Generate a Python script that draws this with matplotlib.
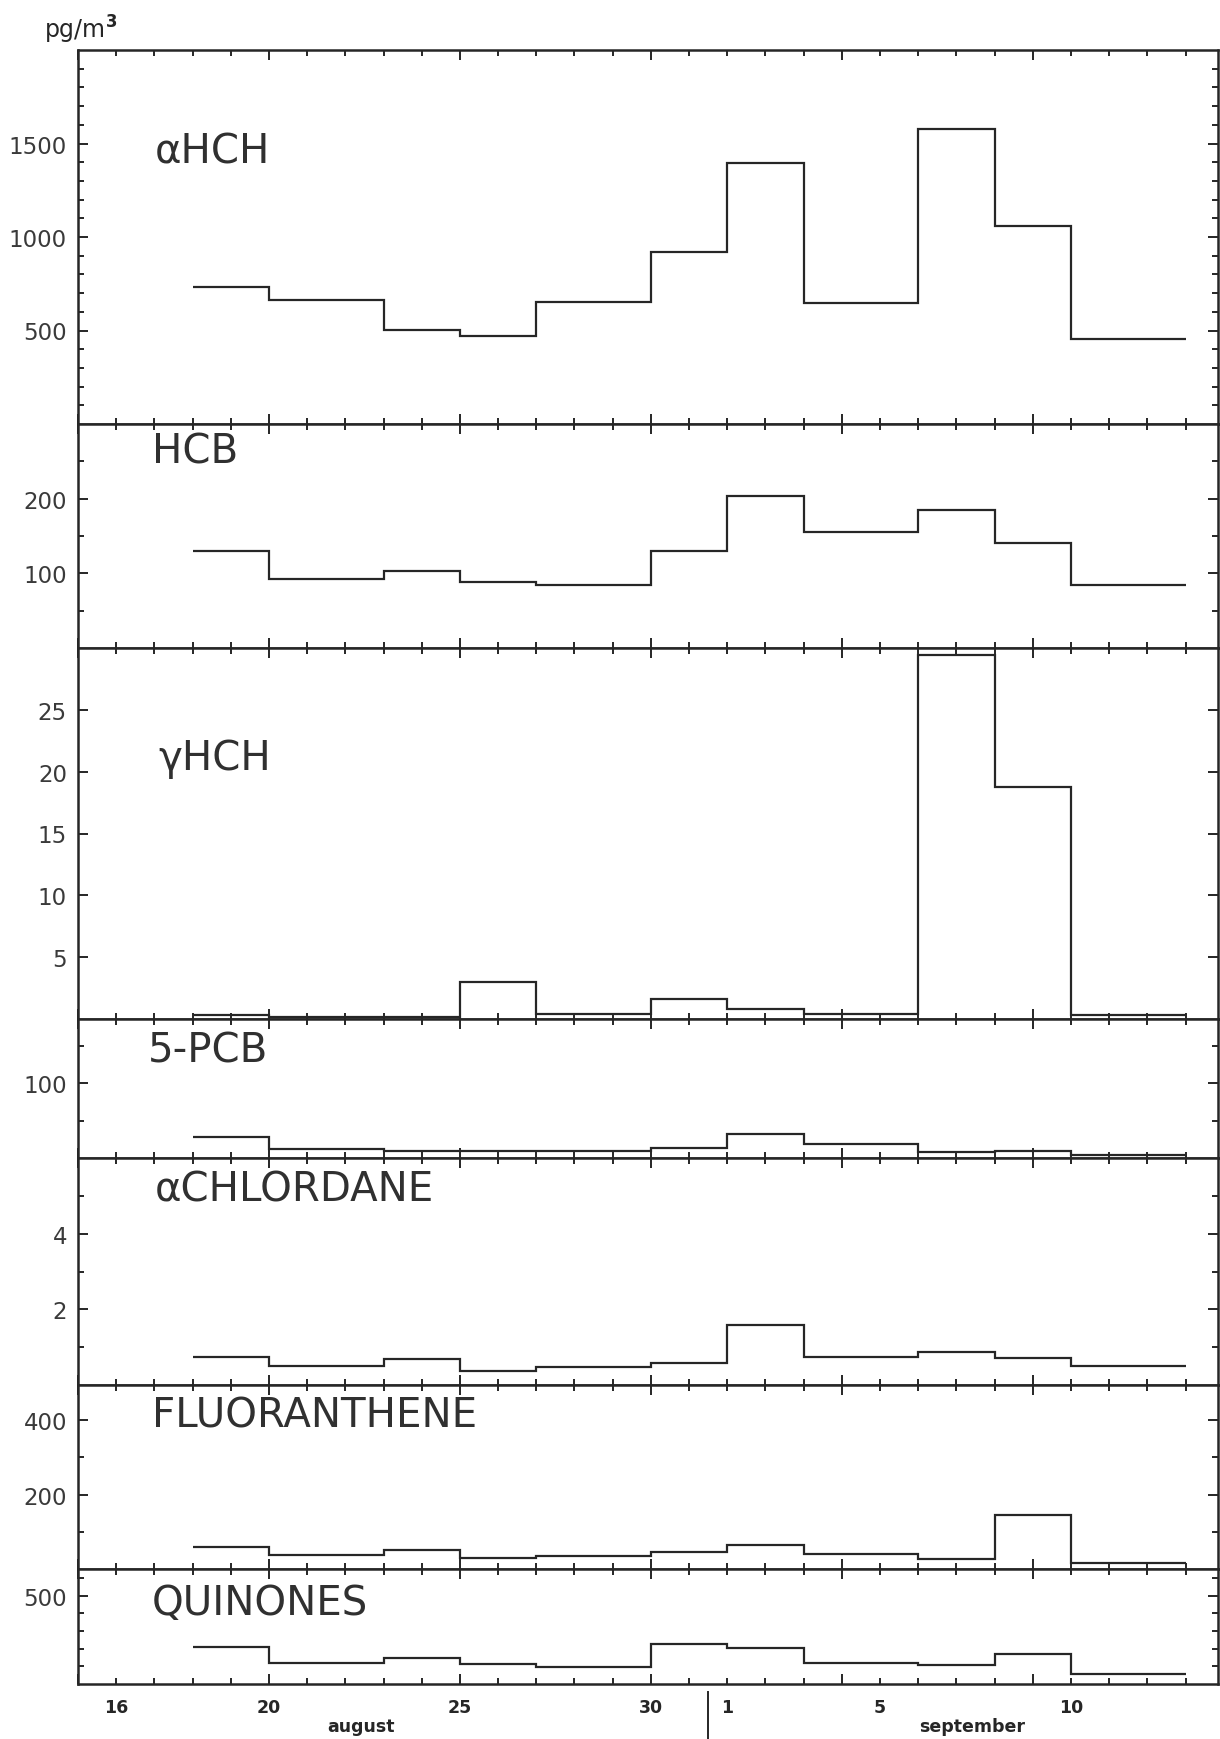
import matplotlib
matplotlib.use('Agg')
import matplotlib.pyplot as plt

# Sampling periods as day numbers counted from 1 August (32 = 1 September)
edges = [18, 20, 23, 25, 27, 30, 32, 34, 37, 39, 41, 44]

# Air concentrations per sampling period, pg/m3
a_hch = [730, 665, 505, 470, 650, 918, 1395, 647, 1575, 1058, 452]
hcb = [130, 92, 103, 88, 85, 130, 203, 155, 185, 140, 84]
g_hch = [0.3, 0.2, 0.2, 3.0, 0.4, 1.6, 0.8, 0.4, 29.4, 18.8, 0.3]
pcb5 = [28, 12, 10, 9, 9, 13, 32, 19, 8, 10, 4]
a_chlordane = [0.74, 0.50, 0.68, 0.38, 0.47, 0.59, 1.59, 0.74, 0.88, 0.71, 0.50]
fluoranthene = [58, 38, 50, 29, 35, 47, 65, 41, 26, 144, 15]
quinones = [207, 120, 145, 115, 95, 225, 205, 120, 106, 170, 55]

names = ['αHCH', 'HCB', 'γHCH', '5-PCB', 'αCHLORDANE', 'FLUORANTHENE', 'QUINONES']
series = [a_hch, hcb, g_hch, pcb5, a_chlordane, fluoranthene, quinones]
y_max = [2000, 300, 30, 186, 6, 495, 650]
y_major = [[500, 1000, 1500], [100, 200], [5, 10, 15, 20, 25], [100], [2, 4],
           [200, 400], [500]]
y_minor = [list(range(100, 2000, 100)), [50, 150, 250], [], [50, 150], [1, 3, 5],
           [100, 300], [100, 200, 300, 400, 600]]

# x axis: labelled days and month names
day_ticks = [16, 20, 25, 30, 32, 36, 41]
day_labels = ['16', '20', '25', '30', '1', '5', '10']
month_pos = [22.4, 38.4]
month_names = ['august', 'september']
month_break = 31.5

W, H = 1220, 1740
ink = '#262626'
fig = plt.figure(figsize=(W / 100, H / 100), dpi=100)
fig.patch.set_facecolor('white')

# panel frame rows in pixels
rows = [51, 425, 649, 1020, 1159, 1386, 1570, 1685]
x0, x1 = 78, 1218
label_x = [155, 152, 158, 148, 155, 152, 152]
label_base = [163, 464, 770, 1063, 1202, 1428, 1615]

axes = []
for i, vals in enumerate(series):
    top, bot = rows[i], rows[i + 1]
    ax = fig.add_axes([x0 / W, 1 - bot / H, (x1 - x0) / W, (bot - top) / H])
    ax.stairs(vals, edges, baseline=None, color=ink, lw=1.6)
    ax.set_xlim(15.1, 44.85)
    ax.set_ylim(0, y_max[i])

    ax.set_xticks(range(15, 45, 5))
    ax.set_xticks(range(15, 45), minor=True)
    ax.set_yticks(y_major[i])
    ax.set_yticks(y_minor[i], minor=True)
    ax.set_xticklabels([])
    ax.tick_params(which='both', direction='in', top=True, right=True,
                   color=ink, width=1.4)
    ax.tick_params(which='major', length=7)
    ax.tick_params(which='minor', length=4)
    ax.tick_params(axis='y', labelsize=16.5, labelcolor='#3a3a3a', pad=8)
    for s in ax.spines.values():
        s.set_linewidth(1.8)
        s.set_color(ink)

    fig.text(label_x[i] / W, 1 - label_base[i] / H, names[i], fontsize=29,
             color='#303030', ha='left', va='baseline')
    axes.append(ax)

# day numbers and month names under the bottom panel
ax = axes[-1]
h_px = rows[-1] - rows[-2]
trans = ax.get_xaxis_transform()
for d, lab in zip(day_ticks, day_labels):
    ax.text(d, -(1708 - rows[-1]) / h_px, lab, transform=trans, ha='center',
            va='center', fontsize=12.5, fontweight='bold', color=ink)
for d, lab in zip(month_pos, month_names):
    ax.text(d, -(1727 - rows[-1]) / h_px, lab, transform=trans, ha='center',
            va='center', fontsize=12.5, fontweight='bold', color=ink)
ax.plot([month_break, month_break], [-(1693 - rows[-1]) / h_px, -(1740 - rows[-1]) / h_px],
        transform=trans, color=ink, lw=1.4, clip_on=False)

fig.text(81 / W, 1 - 30 / H, 'pg/m$^\\mathbf{3}$', fontsize=17, ha='center',
         va='center', color=ink)

fig.savefig('out.png', dpi=100, facecolor='white')
